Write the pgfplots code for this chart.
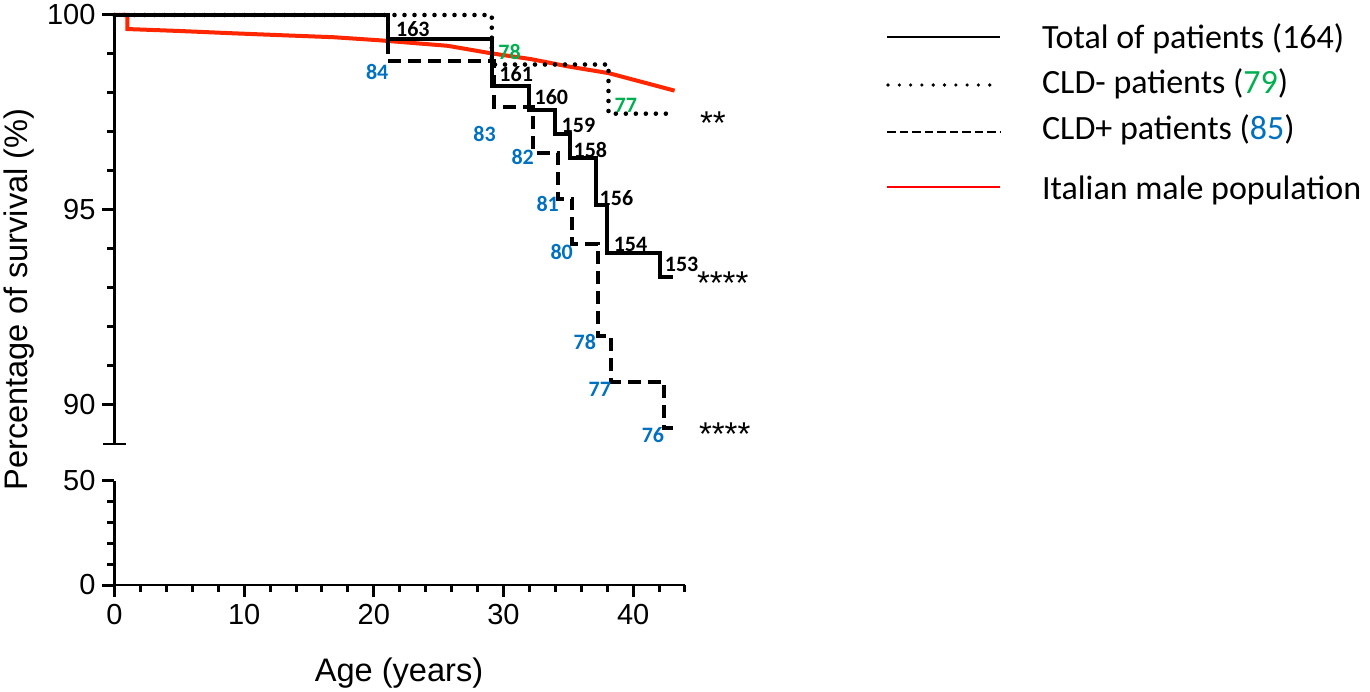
\documentclass[border=0pt]{standalone}
\usepackage{fontspec}
\setmainfont{Liberation Sans}
\newfontfamily\calfont{Carlito}
\usepackage{pgfplots}
\pgfplotsset{compat=1.18}
\definecolor{kmred}{RGB}{255,38,0}
\definecolor{kmblue}{RGB}{0,112,192}
\definecolor{kmgreen}{RGB}{0,176,80}

\pgfplotsset{km/.style={
  scale only axis, width=285.25pt, xmin=0, xmax=44,
  axis line style={draw=none},
  tick align=outside, xtick pos=bottom, ytick pos=left,
  /pgf/number format/assume math mode=true,
  tick label style={font=\fontsize{14.5}{15}\selectfont},
  clip=false}}
\tikzset{
  nrisk/.style={font=\calfont\bfseries\fontsize{11}{11}\selectfont,inner sep=0pt},
  stars/.style={font=\fontsize{16.5}{17}\selectfont,inner sep=0pt,anchor=base west}}

\begin{document}
\begin{tikzpicture}[x=1pt,y=1pt]
\useasboundingbox (0,0) rectangle (685,345.5);

% upper panel, 89 to 100
\begin{axis}[km, at={(57.25pt,123.5pt)}, anchor=south west, height=214.5pt,
  ymin=89, ymax=100, xtick=\empty,
  ytick={90,95,100}, minor ytick={91,92,93,94,96,97,98,99},
  tick style={line width=1.5pt,black}, major tick length=6pt, minor tick length=3.5pt]
\draw[line width=1.4pt] (rel axis cs:0,0) -- (rel axis cs:0,1);
\draw[line width=1.4pt] ([xshift=-5.75pt]rel axis cs:0,0) -- ([xshift=5.75pt]rel axis cs:0,0);
% Italian male population
\addplot[kmred, line width=2pt] coordinates {
 (0,100) (1.0,100) (1.0,99.64) (5,99.59) (9.2,99.53) (13,99.48) (16.9,99.43)
 (20.5,99.35) (25.7,99.21) (29.0,99.02) (32.1,98.87) (35.0,98.68)
 (38.1,98.51) (40.6,98.29) (43.2,98.06)};
% CLD- patients
\addplot[black, const plot, line width=2.3pt, line cap=round,
  dash pattern=on 0pt off 5pt] coordinates {
 (0,100) (29.1,98.73) (38.1,97.47) (43.0,97.47)};
% CLD+ patients
\addplot[black, const plot, line width=2pt, dash pattern=on 6.5pt off 3.5pt] coordinates {
 (0,100) (21.1,98.82) (29.3,97.65) (32.3,96.47) (34.2,95.29) (35.3,94.12)
 (37.3,91.76) (38.3,90.59) (42.4,89.41) (43.1,89.41)};
% total of patients
\addplot[black, const plot, line width=2pt] coordinates {
 (0,100) (21.1,99.39) (29.1,98.17) (32.0,97.56) (34.0,96.95) (35.1,96.34)
 (37.1,95.12) (38.0,93.90) (42.1,93.29) (43.1,93.29)};

\node[nrisk,anchor=west] at (axis cs:21.69,99.65) {163};
\node[nrisk,anchor=west] at (axis cs:29.66,98.48) {161};
\node[nrisk,anchor=west] at (axis cs:32.37,97.89) {160};
\node[nrisk,anchor=west] at (axis cs:34.46,97.18) {159};
\node[nrisk,anchor=west] at (axis cs:35.38,96.54) {158};
\node[nrisk,anchor=west] at (axis cs:37.39,95.30) {156};
\node[nrisk,anchor=west] at (axis cs:38.48,94.11) {154};
\node[nrisk,anchor=west] at (axis cs:42.42,93.60) {153};

\node[nrisk,anchor=east,kmblue] at (axis cs:21.15,98.55) {84};
\node[nrisk,anchor=east,kmblue] at (axis cs:29.43,96.94) {83};
\node[nrisk,anchor=east,kmblue] at (axis cs:32.37,96.35) {82};
\node[nrisk,anchor=east,kmblue] at (axis cs:34.30,95.15) {81};
\node[nrisk,anchor=east,kmblue] at (axis cs:35.38,93.92) {80};
\node[nrisk,anchor=east,kmblue] at (axis cs:37.16,91.62) {78};
\node[nrisk,anchor=east,kmblue] at (axis cs:38.32,90.39) {77};
\node[nrisk,anchor=east,kmblue] at (axis cs:42.42,89.24) {76};

\node[nrisk,anchor=west,kmgreen] at (axis cs:29.58,99.04) {78};
\node[nrisk,anchor=west,kmgreen] at (axis cs:38.55,97.68) {77};

\node[stars] at (axis cs:45.13,96.93) {**};
\node[stars] at (axis cs:44.90,92.83) {****};
\node[stars] at (axis cs:45.05,88.96) {****};
\end{axis}

% lower panel, 0 to 50
\begin{axis}[km, at={(57.25pt,53pt)}, anchor=south west, height=52pt,
  ymin=0, ymax=50,
  ytick={0,50}, minor ytick={10,20,30,40},
  xtick={0,10,20,30,40}, minor xtick={2,4,...,44},
  tick style={line width=1.5pt,black}, major tick length=6pt, minor tick length=3.5pt]
\draw[line width=1.4pt] (rel axis cs:0,1) -- (rel axis cs:0,0) -- (rel axis cs:1,0);
\end{axis}

\node[anchor=base,font=\fontsize{16.3}{17}\selectfont] at (199.5,4.65) {Age (years)};
\node[anchor=base,rotate=90,font=\fontsize{16.3}{17}\selectfont] at (13.5,195.75)
  {Percentage of survival (\%)};

% legend
\begin{scope}[font=\calfont\fontsize{17}{18}\selectfont]
\draw[black,line width=1pt] (443.5,326.85) -- (500,326.85);
\node[anchor=base west,inner sep=0pt] at (520.85,321.35) {Total of patients (164)};
\draw[black,line width=1.8pt,line cap=round,dash pattern=on 0pt off 5.65pt] (444,303) -- (498,303);
\node[anchor=base west,inner sep=0pt] at (520.85,298.85) {CLD- patients (\textcolor{kmgreen}{79})};
\draw[black,line width=1pt,dash pattern=on 4.4pt off 1.85pt] (443.5,279.65) -- (500,279.65);
\node[anchor=base west,inner sep=0pt] at (520.85,275.5) {CLD+ patients (\textcolor{kmblue}{85})};
\draw[red,line width=1pt] (443.5,251.85) -- (500,251.85);
\node[anchor=base west,inner sep=0pt] at (520.85,245.5) {Italian male population};
\end{scope}
\end{tikzpicture}
\end{document}
